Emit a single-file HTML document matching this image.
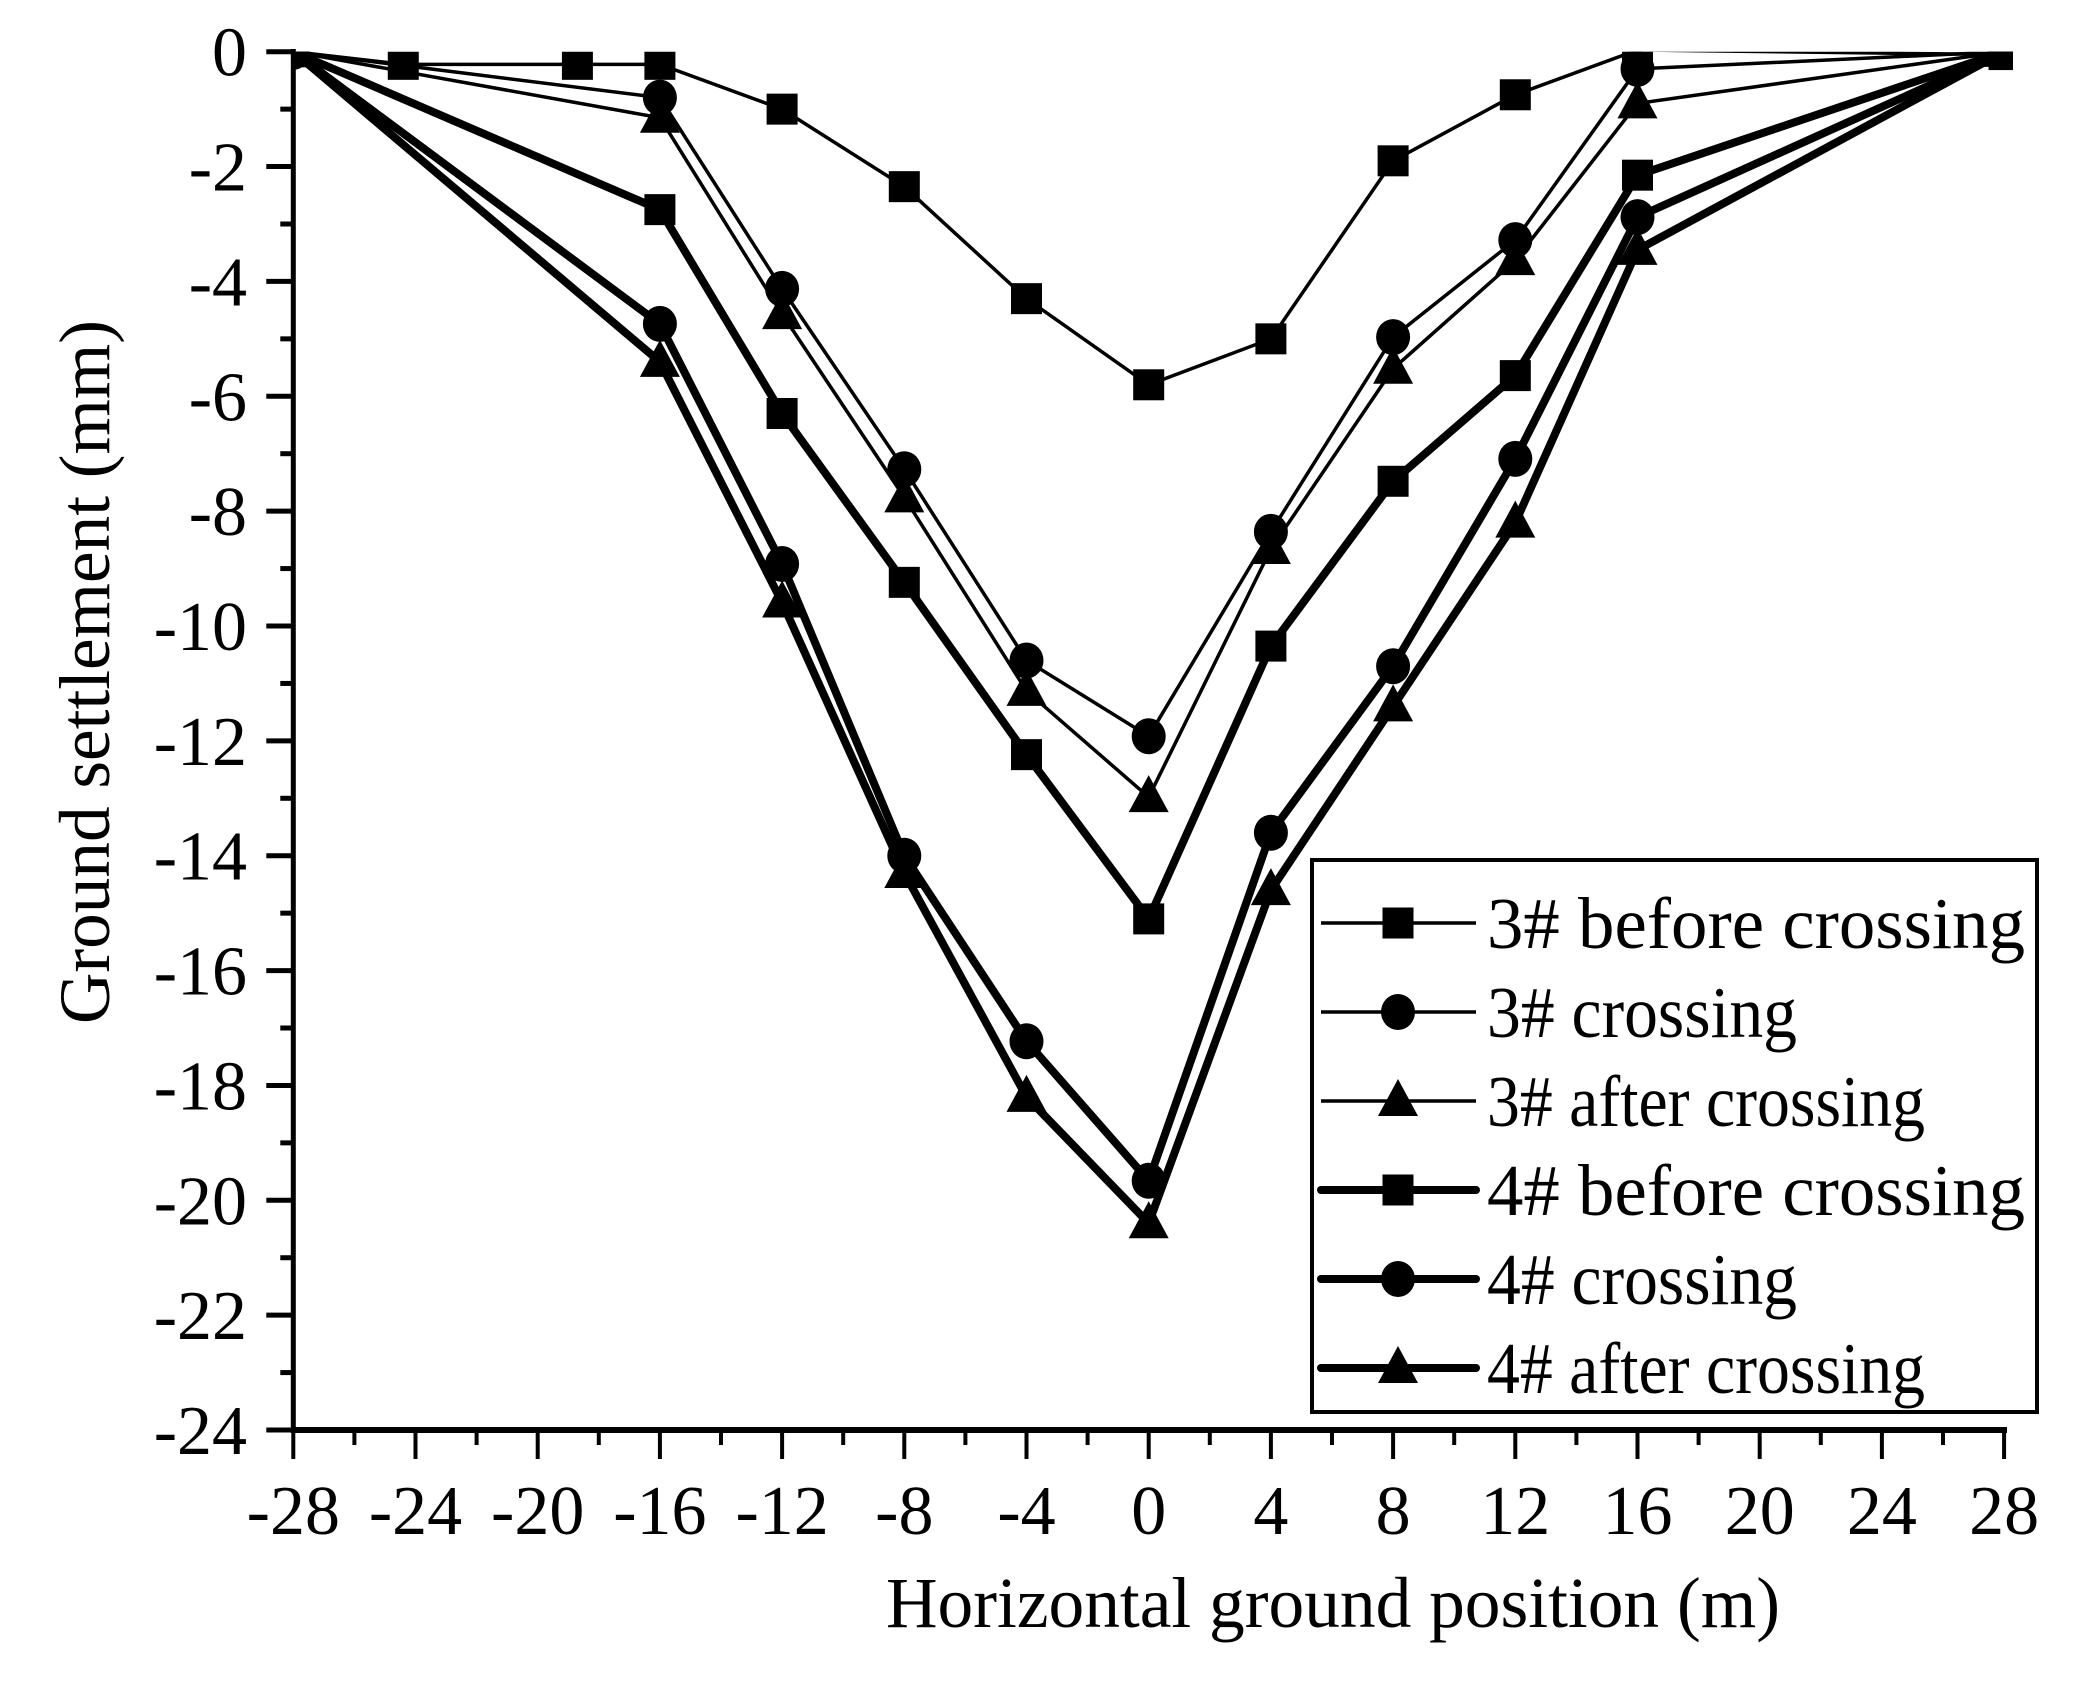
<!DOCTYPE html>
<html><head><meta charset="utf-8"><style>
html,body{margin:0;padding:0;background:#fff}
svg{display:block}
text{font-family:"Liberation Serif",serif;fill:#000}
</style></head><body>
<svg id="s" width="2081" height="1687" viewBox="0 0 2081 1687" xmlns="http://www.w3.org/2000/svg">
<defs><clipPath id="c"><rect x="293" y="51.7" width="1720" height="1380"/></clipPath></defs>
<g id="plot" clip-path="url(#c)"></g>
<g id="axes"></g>
<text x="85" y="672" font-size="72" text-anchor="middle" textLength="704" lengthAdjust="spacingAndGlyphs" transform="rotate(-90 85 672)" dy="24">Ground settlement (mm)</text>
<text x="1333" y="1627" font-size="72" text-anchor="middle" textLength="894" lengthAdjust="spacingAndGlyphs">Horizontal ground position (m)</text>
<rect x="1312" y="860" width="725" height="552" fill="#fff" stroke="#000" stroke-width="4"/>
<g id="leg"></g>
</svg>
<script>
var NS="http://www.w3.org/2000/svg";
function X(v){return 293.3+(v+28)*30.55;}
function Y(v){return 51.7-v*57.43;}
function el(p,t,a){var e=document.createElementNS(NS,t);for(var k in a)e.setAttribute(k,a[k]);p.appendChild(e);return e;}
var plot=document.getElementById('plot'),axes=document.getElementById('axes'),leg=document.getElementById('leg');
var xs=[-28,-16,-12,-8,-4,0,4,8,12,16,28];
var S=[
 {m:'s',w:3.5,x:[-28,-24.4,-18.7,-16,-12,-8,-4,0,4,8,12,16,28],y:[0,-0.22,-0.22,-0.22,-1.0,-2.35,-4.3,-5.8,-5.0,-1.9,-0.75,0.03,-0.05]},
 {m:'c',w:3.5,x:xs,y:[0,-0.8,-4.13,-7.27,-10.6,-11.92,-8.36,-4.97,-3.28,-0.3,0]},
 {m:'t',w:3.5,x:xs,y:[0,-1.15,-4.57,-7.76,-11.13,-12.98,-8.66,-5.52,-3.63,-0.9,0]},
 {m:'s',w:8,x:xs,y:[0,-2.75,-6.3,-9.24,-12.24,-15.1,-10.35,-7.48,-5.64,-2.15,0]},
 {m:'c',w:8,x:xs,y:[0,-4.74,-8.92,-14.0,-17.23,-19.66,-13.6,-10.7,-7.09,-2.88,0]},
 {m:'t',w:8,x:xs,y:[0,-5.4,-9.59,-14.3,-18.2,-20.4,-14.6,-11.4,-8.2,-3.45,0]}
];
function marker(p,m,cx,cy){
 if(m=='s')el(p,'rect',{x:cx-15.5,y:cy-15.5,width:31,height:31});
 else if(m=='c')el(p,'ellipse',{cx:cx,cy:cy,rx:17,ry:18});
 else el(p,'polygon',{points:(cx-20)+','+(cy+15)+' '+(cx+20)+','+(cy+15)+' '+cx+','+(cy-22)});
}
S.forEach(function(s){
 var pts=s.x.map(function(v,i){return X(v)+','+Y(s.y[i]);}).join(' ');
 el(plot,'polyline',{points:pts,fill:'none',stroke:'#000','stroke-width':s.w,'stroke-linejoin':'miter'});
});
S.forEach(function(s){s.x.forEach(function(v,i){marker(plot,s.m,X(v),Y(s.y[i]));});});
el(axes,'line',{x1:293.3,y1:49,x2:293.3,y2:1433,stroke:'#000','stroke-width':5});
el(axes,'line',{x1:291,y1:1430,x2:2007,y2:1430,stroke:'#000','stroke-width':6});
for(var v=0;v>=-24;v--){
 var y=Y(v),maj=(v%2==0);
 el(axes,'line',{x1:293.3-(maj?27:13),y1:y,x2:293.3,y2:y,stroke:'#000','stroke-width':5});
 if(maj){var t=el(axes,'text',{x:247,y:y+24,'font-size':70,'text-anchor':'end'});t.textContent=v;}
}
for(var v=-28;v<=28;v+=2){
 var x=X(v),maj=(v%4==0);
 el(axes,'line',{x1:x,y1:1430,x2:x,y2:1430+(maj?29:15),stroke:'#000','stroke-width':4});
 if(maj){var t=el(axes,'text',{x:x,y:1534,'font-size':70,'text-anchor':'middle'});t.textContent=v;}
}
var names=['3# before crossing','3# crossing','3# after crossing','4# before crossing','4# crossing','4# after crossing'];
var lens=[538,310,438,538,310,438];
names.forEach(function(n,i){
 var y=923+i*89;
 el(leg,'line',{x1:1321,y1:y,x2:1476,y2:y,stroke:'#000','stroke-width':S[i].w,'stroke-linecap':i>2?'round':'butt'});
 marker(leg,S[i].m,1398,y);
 var t=el(leg,'text',{x:1487,y:y+25,'font-size':73,textLength:lens[i],lengthAdjust:'spacingAndGlyphs'});t.textContent=n;
});
</script>
</body></html>
